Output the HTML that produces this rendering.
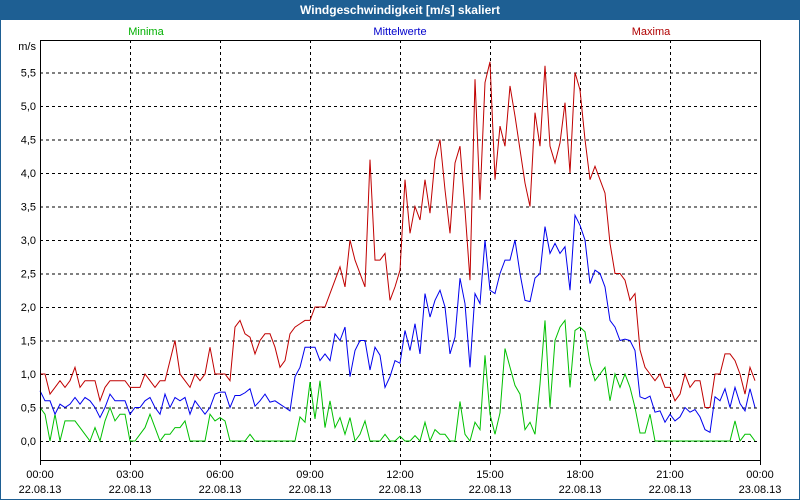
<!DOCTYPE html>
<html><head><meta charset="utf-8"><style>
body{margin:0;background:#fff;}
svg{display:block;font-family:"Liberation Sans",sans-serif;}
</style></head><body>
<svg id="chart" width="800" height="500" viewBox="0 0 800 500">
<rect x="0" y="0" width="800" height="500" fill="#fff" stroke="#1e5f93" stroke-width="2"/>
<rect x="0" y="0" width="800" height="20" fill="#1e5f93"/>
<text x="400" y="14" text-anchor="middle" fill="#fff" font-size="12" font-weight="bold">Windgeschwindigkeit [m/s] skaliert</text>
<text x="146" y="35" text-anchor="middle" fill="#00b000" font-size="11">Minima</text>
<text x="400" y="35" text-anchor="middle" fill="#0000cc" font-size="11">Mittelwerte</text>
<text x="651" y="35" text-anchor="middle" fill="#b00000" font-size="11">Maxima</text>
<text x="36" y="50" text-anchor="end" font-size="11">m/s</text>
<g id="grid"></g><g id="series"></g><g id="labels"></g>
<rect x="40.5" y="40.5" width="720" height="420" fill="none" stroke="#000" stroke-width="1"/>
</svg>
<script>
const yTicks=["0,0","0,5","1,0","1,5","2,0","2,5","3,0","3,5","4,0","4,5","5,0","5,5"];
const yTickValues=[0,0.5,1,1.5,2,2.5,3,3.5,4,4.5,5,5.5];
const xTimes=["00:00","03:00","06:00","09:00","12:00","15:00","18:00","21:00","00:00"];
const xDates=["22.08.13","22.08.13","22.08.13","22.08.13","22.08.13","22.08.13","22.08.13","22.08.13","23.08.13"];
const maxima=[1.0,1.0,0.7,0.8,0.9,0.8,0.9,1.1,0.8,0.9,0.9,0.9,0.6,0.8,0.9,0.9,0.9,0.9,0.8,0.8,0.8,1.0,0.9,0.8,0.9,0.9,1.2,1.5,1.0,0.9,0.8,1.0,0.9,1.0,1.4,1.0,1.0,
1.0,0.9,1.7,1.8,1.6,1.55,1.3,1.5,1.6,1.6,1.4,1.1,1.2,1.6,1.7,1.75,1.8,1.8,2.0,2.0,2.0,2.2,2.4,2.6,2.3,3.0,2.7,2.5,2.3,4.2,2.7,2.7,2.8,2.1,2.3,2.55,
3.9,3.1,3.5,3.3,3.9,3.4,4.2,4.5,3.75,3.1,4.15,4.4,3.45,2.4,5.4,3.6,5.35,5.66,3.9,4.7,4.4,5.3,4.85,4.35,3.85,3.5,4.9,4.4,5.6,4.4,4.15,4.45,5.05,4.0,5.5,
5.24,4.5,3.9,4.1,3.9,3.7,2.95,2.5,2.5,2.4,2.1,2.2,1.36,1.1,1.0,0.9,1.0,0.8,0.8,0.6,0.7,1.0,0.8,0.9,0.9,0.5,0.5,1.0,1.0,1.3,1.3,1.2,1.0,0.7,1.1,0.9];
const mittel=[0.75,0.6,0.6,0.4,0.55,0.5,0.55,0.65,0.55,0.65,0.6,0.5,0.35,0.5,0.7,0.6,0.6,0.6,0.4,0.5,0.5,0.6,0.65,0.5,0.4,0.7,0.5,0.65,0.6,0.65,0.4,0.6,0.5,0.4,0.5,0.7,0.73,
0.73,0.5,0.68,0.68,0.72,0.78,0.52,0.6,0.7,0.58,0.6,0.55,0.5,0.45,0.96,1.1,1.4,1.4,1.4,1.2,1.3,1.2,1.6,1.5,1.7,0.96,1.35,1.5,1.5,1.06,1.4,1.28,0.8,0.96,1.2,1.16,
1.65,1.35,1.75,1.3,2.2,1.85,2.1,2.25,2.0,1.3,1.55,2.43,2.05,1.1,2.2,2.05,3.0,2.25,2.2,2.5,2.7,2.7,3.0,2.5,2.1,2.08,2.43,2.5,3.2,2.8,2.95,2.8,2.9,2.25,3.37,
3.22,3.0,2.35,2.55,2.5,2.3,1.8,1.7,1.5,1.52,1.5,1.35,0.66,0.63,0.67,0.43,0.45,0.28,0.4,0.3,0.36,0.5,0.43,0.47,0.36,0.17,0.13,0.66,0.6,0.78,0.5,0.8,0.56,0.45,0.78,0.5];
const minima=[0.5,0.4,0.0,0.4,0.0,0.3,0.3,0.3,0.2,0.1,0.0,0.2,0.0,0.3,0.5,0.3,0.4,0.4,0.0,0.0,0.1,0.2,0.4,0.2,0.0,0.1,0.1,0.2,0.2,0.3,0.0,0.0,0.0,0.0,0.4,0.3,0.35,
0.3,0,0,0,0,0.1,0,0,0,0,0,0,0,0,0,0.36,0.28,0.88,0.33,0.9,0.2,0.6,0.2,0.35,0.1,0.35,0,0.1,0.3,0,0,0,0.1,0,0,0.07,
0,0,0.08,0,0.28,0,0.17,0.1,0.1,0,0,0.59,0.1,0,0.28,0.17,1.28,0.4,0.1,0.42,1.38,1.1,0.83,0.7,0.17,0.28,0.1,0.85,1.8,0.5,1.5,1.7,1.8,0.8,1.65,
1.7,1.63,1.16,0.9,1.0,1.1,0.6,1.0,0.8,1.0,0.8,0.5,0.12,0.12,0.4,0,0,0,0,0,0,0,0,0,0,0,0,0,0,0,0,0.3,0,0.1,0.1,0];
const NS="http://www.w3.org/2000/svg";
const yScale=v=>441-v*67;
const xScale=i=>40+i*5;
const xTick=k=>40+k*90;
const grid=document.getElementById('grid'),ser=document.getElementById('series'),lab=document.getElementById('labels');
yTickValues.forEach((v,k)=>{
  const l=document.createElementNS(NS,'line');
  
  
  l.setAttribute('x1',40);l.setAttribute('x2',760);l.setAttribute('y1',yScale(v)+0.5);l.setAttribute('y2',yScale(v)+0.5);
  l.setAttribute('stroke','#000');l.setAttribute('stroke-dasharray','3,3');
  grid.appendChild(l);
  const t=document.createElementNS(NS,'text');
  
  
  t.setAttribute('x',36);t.setAttribute('y',yScale(v)+4);t.setAttribute('text-anchor','end');t.setAttribute('font-size','11');
  t.textContent=yTicks[k];lab.appendChild(t);
});
xTimes.forEach((s,k)=>{
  const x=xTick(k)+0.5;
  if(k>0&&k<xTimes.length-1){
    const l=document.createElementNS(NS,'line');
    
    
    l.setAttribute('x1',x);l.setAttribute('x2',x);l.setAttribute('y1',40);l.setAttribute('y2',460);
    l.setAttribute('stroke','#000');l.setAttribute('stroke-dasharray','3,3');grid.appendChild(l);
  }
  const tk=document.createElementNS(NS,'line');
  
  
  tk.setAttribute('x1',x);tk.setAttribute('x2',x);tk.setAttribute('y1',460);tk.setAttribute('y2',465);tk.setAttribute('stroke','#000');grid.appendChild(tk);
  const t=document.createElementNS(NS,'text');
  
  
  t.setAttribute('x',xTick(k));t.setAttribute('y',478);t.setAttribute('text-anchor','middle');t.setAttribute('font-size','11');
  t.textContent=s;lab.appendChild(t);
  const d=document.createElementNS(NS,'text');
  
  
  d.setAttribute('x',xTick(k));d.setAttribute('y',493);d.setAttribute('text-anchor','middle');d.setAttribute('font-size','11');
  d.textContent=xDates[k];lab.appendChild(d);
});
function drawLine(arr,color,name){
  const p=document.createElementNS(NS,'polyline');
  
  
  p.setAttribute('points',arr.map((v,i)=>xScale(i)+','+yScale(v)).join(' '));
  p.setAttribute('fill','none');p.setAttribute('stroke',color);p.setAttribute('stroke-width','1');
  ser.appendChild(p);
}
drawLine(minima,'#00c000','minima-line');
drawLine(mittel,'#0000ee','mittelwerte-line');
drawLine(maxima,'#c00000','maxima-line');
</script>
</body></html>
